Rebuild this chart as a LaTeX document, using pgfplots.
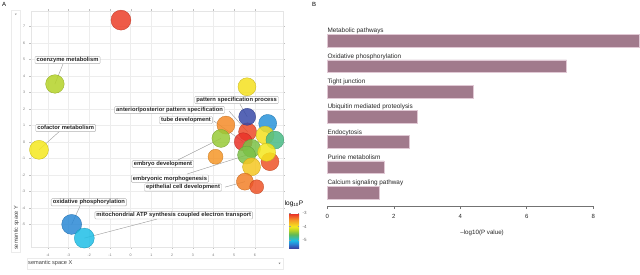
\documentclass[border=0pt]{standalone}
\usepackage{pgfplots}
\pgfplotsset{compat=1.18}
\usepackage{pgfplotstable}
\usepackage{fontspec}
\setmainfont{Liberation Sans}
\definecolor{barc}{RGB}{161,122,140}
\definecolor{barb}{RGB}{224,200,212}
\pgfplotsset{colormap={rev}{rgb255(0cm)=(58,64,160); rgb255(0.3cm)=(45,125,210); rgb255(0.6cm)=(30,190,230); rgb255(1.05cm)=(95,185,85); rgb255(1.35cm)=(180,210,40); rgb255(1.65cm)=(245,232,30); rgb255(2.15cm)=(245,150,40); rgb255(2.65cm)=(232,40,40)}}

\pgfplotstableread{
x y c r
-0.47 7.39 -3.10 10
-3.66 3.52 -4.30 9.3
5.62 3.35 -3.95 9
-4.43 -0.47 -4.00 9.5
-2.85 -4.99 -5.30 10
-2.24 -5.82 -5.05 10
4.60 1.03 -3.45 9
5.65 0.62 -3.15 9
5.63 1.53 -5.60 8.5
6.62 1.13 -5.25 9
6.49 0.42 -3.95 9
6.97 0.12 -4.75 9
4.36 0.22 -4.40 9
5.44 0.02 -3.05 9
4.10 -0.89 -3.50 7.5
6.73 -1.19 -3.20 9
5.84 -0.38 -4.50 9
5.60 -0.79 -4.50 9
6.57 -0.62 -4.00 9
5.84 -1.50 -3.80 9
5.52 -2.40 -3.40 8.5
6.09 -2.71 -3.20 7
}\bubbles

\pgfplotstableread{
pos val
6 9.38
5 7.20
4 4.38
3 2.71
2 2.48
1 1.71
0 1.56
}\kegg

\begin{document}
\begin{tikzpicture}[
  lbl/.style={fill=white, draw=black!30, rounded corners=1pt, inner xsep=1.6pt, inner ysep=0.9pt,
    text height=4.3pt, text depth=1.2pt, font=\bfseries\fontsize{5.8}{6}\selectfont, text=black!85},
  bl/.style={anchor=base west, inner sep=0, font=\fontsize{6.4}{7}\selectfont, text=black!85, yshift=8pt},
  cl/.style={black!40, line width=0.4pt},
]
\useasboundingbox (0pt,0pt) rectangle (640pt,274pt);
% panel letters
\node[anchor=north west, inner sep=0, font=\fontsize{6}{7}\selectfont] at (2pt,272pt) {A};
\node[anchor=north west, inner sep=0, font=\fontsize{6}{7}\selectfont] at (312pt,272pt) {B};
% dropdown boxes of panel A
\draw[black!8, fill=white] (27pt,5pt) rectangle (283pt,16pt);
\node[anchor=west, inner sep=0, font=\fontsize{5.6}{6}\selectfont, text=black!75] at (28pt,10.5pt) {semantic space X};
\fill[black!45] (278.5pt,11.3pt) -- (280.5pt,11.3pt) -- (279.5pt,9.8pt) -- cycle;
\draw[black!8, fill=white] (11pt,22pt) rectangle (20pt,264pt);
\node[anchor=west, rotate=90, inner sep=0, font=\fontsize{5.6}{6}\selectfont, text=black!75] at (16.5pt,24pt) {semantic space Y};
\fill[black!45] (14.8pt,260.5pt) -- (16.8pt,260.5pt) -- (15.8pt,259pt) -- cycle;

\begin{axis}[
  at={(30.7pt,27pt)}, anchor=south west, scale only axis,
  width=252.3pt, height=236.3pt,
  xmin=-4.83, xmax=7.36, ymin=-6.36, ymax=7.96,
  xtick={-4,-3,...,6}, ytick={-5,-4,...,7},
  grid=major, grid style={black!7, line width=0.4pt},
  axis line style={black!10},
  tick align=outside, major tick length=1.5pt,
  tick style={black!25, line width=0.3pt},
  /pgf/number format/assume math mode=true,
  ticklabel style={font=\fontsize{3.6}{4}\selectfont, text=black!55},
  xticklabel style={yshift=-1.5pt},
  yticklabel style={xshift=-0.5pt},
  clip=false,
  colorbar,
  colormap name=rev,
  point meta min=-5.65, point meta max=-3,
  colorbar style={
    at={(parent axis.south east)}, anchor=south west,
    xshift=-2.5pt, yshift=-1.3pt,
    scale only axis, width=10pt, height=35pt,
    ytick={-5,-4,-3},
    yticklabel style={font=\fontsize{4.5}{5}\selectfont, text=black!60},
    /pgf/number format/assume math mode=true,
    tick style={black!40},
    major tick length=1.5pt,
    axis line style={draw=none},
    title={log\textsubscript{10}P},
    title style={font=\fontsize{6.5}{7}\selectfont, yshift=-3pt},
  },
]
% connector lines
\draw[cl] (axis cs:-3.27,4.73) -- (axis cs:-3.66,3.52);
\draw[cl] (axis cs:-3.42,0.67) -- (axis cs:-4.43,-0.47);
\draw[cl] (axis cs:5.28,2.30) -- (axis cs:5.63,1.53);
\draw[cl] (axis cs:4.75,1.88) -- (axis cs:5.65,0.62);
\draw[cl] (axis cs:4.02,1.27) -- (axis cs:5.44,0.02);
\draw[cl] (axis cs:2.28,-1.09) -- (axis cs:4.36,0.22);
\draw[cl] (axis cs:2.72,-1.94) -- (axis cs:5.60,-0.79);
\draw[cl] (axis cs:4.56,-2.73) -- (axis cs:5.52,-2.40);
\draw[cl] (axis cs:-2.45,-3.88) -- (axis cs:-2.85,-4.99);
\draw[cl] (axis cs:1.27,-4.67) -- (axis cs:-2.24,-5.82);
% bubbles
\addplot[scatter, only marks, mark=*, point meta=explicit,
  scatter/use mapped color={draw=mapped color!80!black, fill=mapped color},
  visualization depends on={\thisrow{r}\as\rr},
  scatter/@pre marker code/.append style={/tikz/mark size=\rr},
  mark options={fill opacity=0.85, line width=0.3pt}]
  table[x=x, y=y, meta=c] {\bubbles};
% labels
\node[lbl] at (axis cs:-3.05,4.97) {coenzyme metabolism};
\node[lbl] at (axis cs:5.12,2.55) {pattern specification process};
\node[lbl] at (axis cs:1.88,1.94) {anterior/posterior pattern specification};
\node[lbl] at (axis cs:2.67,1.33) {tube development};
\node[lbl] at (axis cs:-3.14,0.85) {cofactor metabolism};
\node[lbl] at (axis cs:1.56,-1.33) {embryo development};
\node[lbl] at (axis cs:1.90,-2.22) {embryonic morphogenesis};
\node[lbl] at (axis cs:2.53,-2.75) {epithelial cell development};
\node[lbl] at (axis cs:-2.02,-3.65) {oxidative phosphorylation};
\node[lbl] at (axis cs:2.08,-4.44) {mitochondrial ATP synthesis coupled electron transport};
\end{axis}

\begin{axis}[
  at={(327.3pt,68pt)}, anchor=south west, scale only axis,
  width=266pt, height=180.2pt,
  xmin=0, xmax=8, ymin=-0.53, ymax=6.6,
  axis x line=bottom, axis y line=none,
  x axis line style={-, draw=black!55, line width=0.7pt},
  xtick={0,2,4,6,8}, minor xtick={},
  tick align=outside, major tick length=3pt,
  xtick style={draw=black!55, line width=0.6pt},
  /pgf/number format/assume math mode=true,
  xticklabel style={font=\fontsize{6}{7}\selectfont, text=black!85, yshift=-2pt},
  xlabel={–log10(P value)},
  xlabel style={font=\fontsize{6.2}{7}\selectfont, text=black!85, at={(axis description cs:0.582,0)}, anchor=center, yshift=-27pt},
  clip=false,
  xbar, bar width=12.7pt,
]
\addplot[fill=barc, draw=barb, line width=0.6pt] table[x=val, y=pos] {\kegg};
\node[bl] at (axis cs:0,6) {Metabolic pathways};
\node[bl] at (axis cs:0,5) {Oxidative phosphorylation};
\node[bl] at (axis cs:0,4) {Tight junction};
\node[bl] at (axis cs:0,3) {Ubiquitin mediated proteolysis};
\node[bl] at (axis cs:0,2) {Endocytosis};
\node[bl] at (axis cs:0,1) {Purine metabolism};
\node[bl] at (axis cs:0,0) {Calcium signaling pathway};
\end{axis}
\end{tikzpicture}
\end{document}
